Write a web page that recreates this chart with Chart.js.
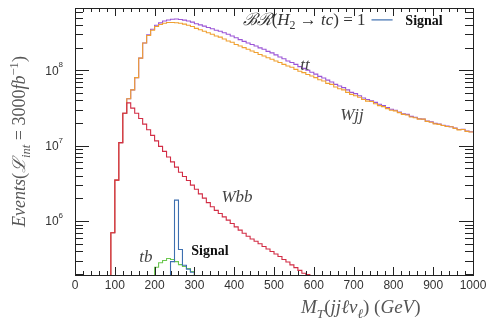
<!DOCTYPE html>
<html>
<head>
<meta charset="utf-8">
<script src="https://cdn.jsdelivr.net/npm/chart.js@4.4.0/dist/chart.umd.min.js"></script>
<style>
  html, body { margin: 0; padding: 0; background: #fff; }
  #wrap { width: 486px; height: 325px; }
</style>
</head>
<body>
<div id="wrap"><canvas id="chart" width="486" height="325"></canvas></div>
<script>
// histogram bins are 10 GeV wide, each series starts at its own left edge
const binWidth = 10;

const wjjStart = 90;
const wjjValues = [
  7e5, 3.5e6, 1.1e7, 2.7e7, 4.2e7, 5.5e7, 8.0e7, 1.45e8, 2.3e8, 2.9e8, 3.4e8, 3.8e8,
  4.05e8, 4.2e8, 4.3e8, 4.3e8, 4.28e8, 4.2e8, 4.1e8, 3.95e8, 3.8e8, 3.6e8,
  3.45e8, 3.3e8, 3.15e8, 3.0e8, 2.85e8, 2.75e8, 2.6e8, 2.45e8, 2.35e8, 2.2e8,
  2.1e8, 2.0e8, 1.9e8, 1.8e8, 1.72e8, 1.62e8, 1.55e8, 1.47e8, 1.4e8, 1.33e8,
  1.27e8, 1.2e8, 1.14e8, 1.1e8, 1.03e8, 9.7e7, 9.3e7, 8.8e7, 8.4e7, 8.0e7,
  7.5e7, 7.2e7, 6.7e7, 6.5e7, 6.0e7, 5.7e7, 5.5e7, 5.1e7, 4.8e7, 4.6e7,
  4.4e7, 4.1e7, 3.9e7, 3.85e7, 3.6e7, 3.4e7, 3.3e7, 3.1e7, 2.95e7, 2.9e7,
  2.75e7, 2.6e7, 2.55e7, 2.4e7, 2.35e7, 2.25e7, 2.25e7, 2.1e7, 2.05e7, 1.95e7,
  1.92e7, 1.85e7, 1.8e7, 1.78e7, 1.7e7, 1.62e7, 1.64e7, 1.55e7, 1.52e7
];

const ttStart = 90;
const ttValues = [
  7e5, 3.5e6, 1.1e7, 2.7e7, 4.2e7, 5.5e7, 8.0e7, 1.45e8, 2.3e8, 2.95e8, 3.5e8, 3.95e8,
  4.25e8, 4.5e8, 4.65e8, 4.75e8, 4.78e8, 4.72e8, 4.62e8, 4.5e8, 4.35e8, 4.15e8,
  4.0e8, 3.85e8, 3.7e8, 3.55e8, 3.4e8, 3.3e8, 3.15e8, 3.0e8, 2.85e8, 2.7e8,
  2.55e8, 2.42e8, 2.3e8, 2.2e8, 2.1e8, 1.98e8, 1.9e8, 1.78e8, 1.7e8, 1.6e8,
  1.5e8, 1.42e8, 1.33e8, 1.27e8, 1.2e8, 1.12e8, 1.06e8, 1.0e8, 9.4e7, 8.9e7,
  8.3e7, 7.9e7, 7.4e7, 7.0e7, 6.5e7, 6.2e7, 5.9e7, 5.5e7, 5.1e7, 4.9e7,
  4.6e7, 4.3e7, 4.1e7, 3.95e7, 3.75e7, 3.55e7, 3.4e7, 3.2e7, 3.05e7, 2.95e7,
  2.8e7, 2.65e7, 2.6e7, 2.45e7, 2.38e7, 2.28e7, 2.25e7, 2.12e7, 2.08e7, 1.98e7,
  1.93e7, 1.87e7, 1.82e7, 1.78e7, 1.72e7, 1.64e7, 1.65e7, 1.57e7, 1.53e7
];

const wbbStart = 90;
const wbbValues = [
  7e5, 3.5e6, 1.1e7, 2.7e7, 3.7e7, 3.15e7, 2.7e7, 2.3e7, 1.93e7, 1.63e7,
  1.37e7, 1.16e7, 9.8e6, 8.4e6, 7.1e6, 6.1e6, 5.2e6, 4.45e6, 3.9e6, 3.45e6,
  3.0e6, 2.65e6, 2.3e6, 2.02e6, 1.76e6, 1.55e6, 1.39e6, 1.26e6, 1.14e6, 1.03e6,
  9.3e5, 8.4e5, 7.6e5, 6.9e5, 6.3e5, 5.8e5, 5.4e5, 5.0e5, 4.6e5, 4.27e5,
  3.95e5, 3.66e5, 3.4e5, 3.1e5, 2.87e5, 2.63e5, 2.42e5, 2.22e5, 2.04e5, 1.95e5
];

const tbStart = 200;
const tbValues = [2.45e5, 2.8e5, 3.0e5, 3.2e5, 3.1e5, 2.9e5, 2.65e5, 2.5e5, 2.35e5, 2.15e5];

const signalStart = 240;
const signalValues = [2.9e5, 1.9e6, 4.2e5, 2.6e5, 2.3e5, 2.1e5];

const xTickValues = [0, 100, 200, 300, 400, 500, 600, 700, 800, 900, 1000];
const yDecades = [1e6, 1e7, 1e8];
const xMin = 0, xMax = 1000;
const yMin = 1.93e5, yMax = 6.7e8;
const floorValue = 1e4;

function histPoints(start, values, closeRight) {
  const pts = [{ x: start, y: floorValue }];
  values.forEach((v, i) => pts.push({ x: start + i * binWidth, y: v }));
  const end = start + values.length * binWidth;
  pts.push({ x: end, y: values[values.length - 1] });
  if (closeRight) pts.push({ x: end, y: floorValue });
  return pts;
}

function histDataset(label, pts, color) {
  return {
    label: label,
    data: pts,
    borderColor: color,
    borderWidth: 1.1,
    stepped: 'before',
    pointRadius: 0,
    fill: false,
    clip: 0,
  };
}

// draw a run of math-ish text: pieces of [text, font style, 'sub'|'sup'|'']
function drawRich(ctx, pieces, x, y, size, align) {
  const fontOf = (p, s) => {
    if (p[1] === 'i') return 'italic ' + s + 'px "Liberation Serif"';
    if (p[1] === 'b') return 'bold ' + s + 'px "Liberation Serif"';
    return s + 'px "Liberation Serif"';
  };
  let total = 0;
  pieces.forEach(p => {
    const s = p[2] ? size * 0.7 : size;
    ctx.font = fontOf(p, s);
    total += ctx.measureText(p[0]).width;
  });
  let cx = align === 'center' ? x - total / 2 : align === 'right' ? x - total : x;
  ctx.textBaseline = 'alphabetic';
  ctx.textAlign = 'left';
  pieces.forEach(p => {
    const s = p[2] ? size * 0.7 : size;
    ctx.font = fontOf(p, s);
    let dy = 0;
    if (p[2] === 'sub') dy = size * 0.25;
    if (p[2] === 'sup') dy = -size * 0.4;
    ctx.fillText(p[0], cx, y + dy);
    cx += ctx.measureText(p[0]).width;
  });
}

const framePlugin = {
  id: 'frame',
  afterDatasetsDraw(chart) {
    const { ctx, chartArea: a, scales } = chart;
    const xs = scales.x, ys = scales.y;
    ctx.save();
    ctx.strokeStyle = '#222';
    ctx.lineWidth = 1;
    ctx.strokeRect(a.left + 0.5, a.top + 0.5, a.right - a.left, a.bottom - a.top);

    // x ticks, bottom and top
    ctx.beginPath();
    for (let v = xMin; v <= xMax; v += 20) {
      const px = Math.round(xs.getPixelForValue(v)) + 0.5;
      const len = v % 100 === 0 ? 8 : 4;
      ctx.moveTo(px, a.bottom); ctx.lineTo(px, a.bottom - len);
      ctx.moveTo(px, a.top); ctx.lineTo(px, a.top + len);
    }
    // y ticks, left and right (log)
    for (let d = 1e5; d <= 1e9; d *= 10) {
      for (let m = 1; m <= 9; m++) {
        const v = d * m;
        if (v < yMin || v > yMax) continue;
        const py = Math.round(ys.getPixelForValue(v)) + 0.5;
        const len = m === 1 ? 14 : 8;
        ctx.moveTo(a.left, py); ctx.lineTo(a.left + len, py);
        ctx.moveTo(a.right, py); ctx.lineTo(a.right - len, py);
      }
    }
    ctx.stroke();

    // tick labels
    ctx.fillStyle = '#333';
    ctx.font = '12px "Liberation Sans"';
    ctx.textAlign = 'center';
    ctx.textBaseline = 'top';
    xTickValues.forEach(v => {
      ctx.fillText(String(v), xs.getPixelForValue(v), a.bottom + 5);
    });
    yDecades.forEach(v => {
      const py = ys.getPixelForValue(v);
      const exp = String(Math.round(Math.log10(v)));
      ctx.font = '8px "Liberation Sans"';
      const ew = ctx.measureText(exp).width;
      ctx.textAlign = 'right';
      ctx.textBaseline = 'middle';
      ctx.fillText(exp, a.left - 12, py - 5);
      ctx.font = '12px "Liberation Sans"';
      ctx.fillText('10', a.left - 12 - ew, py + 1);
    });

    // axis titles
    ctx.fillStyle = '#555';
    drawRich(ctx, [['M', 'i'], ['T', 'i', 'sub'], ['(', 'r'], ['jjℓν', 'i'], ['ℓ', 'i', 'sub'], [') (', 'r'], ['GeV', 'i'], [')', 'r']],
      xs.getPixelForValue(718), a.bottom + 38, 19, 'center');
    ctx.save();
    ctx.translate(25, (a.top + a.bottom) / 2);
    ctx.rotate(-Math.PI / 2);
    drawRich(ctx, [['Events', 'i'], ['(', 'r'], ['ℒ', 'i'], ['int', 'i', 'sub'], [' = 3000', 'r'], ['fb', 'i'], ['−1', 'r', 'sup'], [')', 'r']],
      0, 0, 18, 'center');
    ctx.restore();

    // process labels
    ctx.fillStyle = '#444';
    drawRich(ctx, [['tt', 'i']], xs.getPixelForValue(578), ys.getPixelForValue(1.0e8), 17, 'center');
    drawRich(ctx, [['Wjj', 'i']], xs.getPixelForValue(696), ys.getPixelForValue(2.2e7), 17, 'center');
    drawRich(ctx, [['Wbb', 'i']], xs.getPixelForValue(407), ys.getPixelForValue(1.8e6), 17, 'center');
    drawRich(ctx, [['tb', 'i']], xs.getPixelForValue(178), ys.getPixelForValue(2.9e5), 17, 'center');
    ctx.fillStyle = '#111';
    drawRich(ctx, [['Signal', 'b']], xs.getPixelForValue(339), ys.getPixelForValue(3.6e5), 14, 'center');

    // legend
    const ly = ys.getPixelForValue(4.0e8);
    ctx.fillStyle = '#333';
    drawRich(ctx, [['ℬℛ', 'i'], ['(', 'r'], ['H', 'i'], ['2', 'r', 'sub'], [' → ', 'r'], ['tc', 'i'], [') = 1', 'r']],
      xs.getPixelForValue(730), ly, 17, 'right');
    ctx.strokeStyle = '#3d6fb0';
    ctx.lineWidth = 1.2;
    ctx.beginPath();
    ctx.moveTo(xs.getPixelForValue(745), ly - 5);
    ctx.lineTo(xs.getPixelForValue(798), ly - 5);
    ctx.stroke();
    ctx.fillStyle = '#111';
    drawRich(ctx, [['Signal', 'b']], xs.getPixelForValue(830), ly, 14, 'left');
    ctx.restore();
  }
};

new Chart(document.getElementById('chart'), {
  type: 'line',
  data: {
    datasets: [
      histDataset('Signal', histPoints(signalStart, signalValues, true), '#3d6fb0'),
      histDataset('tb', histPoints(tbStart, tbValues, true), '#6cc850'),
      histDataset('Wbb', histPoints(wbbStart, wbbValues, true), '#d22d45'),
      histDataset('Wjj', histPoints(wjjStart, wjjValues, false), '#f0a030'),
      histDataset('tt', histPoints(ttStart, ttValues, false), '#9b55d6'),
    ]
  },
  options: {
    responsive: false,
    animation: false,
    layout: { padding: { left: 75, right: 13, top: 8, bottom: 50 } },
    plugins: { legend: { display: false }, tooltip: { enabled: false } },
    scales: {
      x: { type: 'linear', min: xMin, max: xMax, display: false },
      y: { type: 'logarithmic', min: yMin, max: yMax, display: false },
    }
  },
  plugins: [framePlugin]
});
</script>
</body>
</html>
